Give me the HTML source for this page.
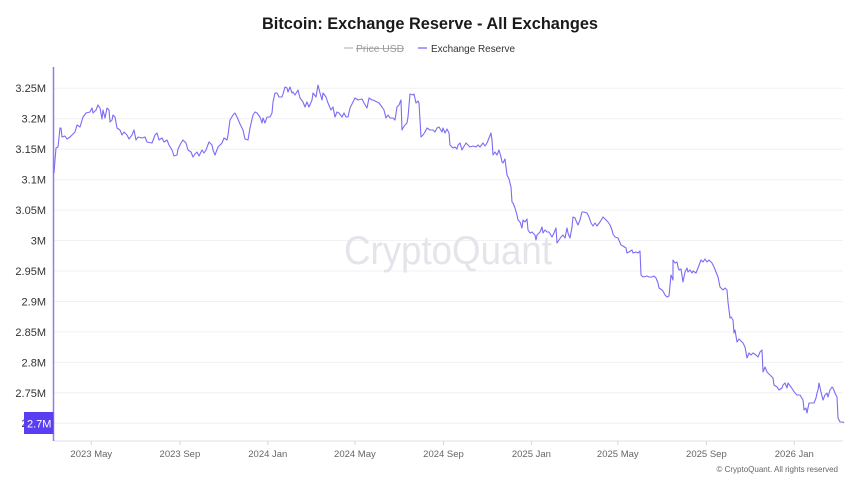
<!DOCTYPE html>
<html><head><meta charset="utf-8"><style>
html,body{margin:0;padding:0;background:#fff;}
svg{display:block;font-family:"Liberation Sans",sans-serif;}
</style></head><body>
<svg width="860" height="484" viewBox="0 0 860 484" xmlns="http://www.w3.org/2000/svg">
<rect width="860" height="484" fill="#fff"/>
<text x="430" y="29" text-anchor="middle" font-size="17" font-weight="bold" fill="#1a1a1a" textLength="336" lengthAdjust="spacingAndGlyphs">Bitcoin: Exchange Reserve - All Exchanges</text>
<line x1="344" y1="48" x2="353" y2="48" stroke="#aaa" stroke-width="1"/>
<text x="356" y="52" font-size="10.5" fill="#999" textLength="48" lengthAdjust="spacingAndGlyphs">Price USD</text>
<line x1="356" y1="48.5" x2="404" y2="48.5" stroke="#999" stroke-width="0.8"/>
<line x1="418" y1="48" x2="427" y2="48" stroke="#6f5ff2" stroke-width="1.2"/>
<text x="431" y="52" font-size="10.5" fill="#333" textLength="84" lengthAdjust="spacingAndGlyphs">Exchange Reserve</text>
<g stroke="#f1f1f3" stroke-width="1">
<line x1="54" y1="88.3" x2="843" y2="88.3"/><line x1="54" y1="118.8" x2="843" y2="118.8"/><line x1="54" y1="149.2" x2="843" y2="149.2"/><line x1="54" y1="179.7" x2="843" y2="179.7"/><line x1="54" y1="210.1" x2="843" y2="210.1"/><line x1="54" y1="240.6" x2="843" y2="240.6"/><line x1="54" y1="271" x2="843" y2="271"/><line x1="54" y1="301.5" x2="843" y2="301.5"/><line x1="54" y1="331.9" x2="843" y2="331.9"/><line x1="54" y1="362.4" x2="843" y2="362.4"/><line x1="54" y1="392.8" x2="843" y2="392.8"/><line x1="54" y1="423.3" x2="843" y2="423.3"/>
</g>
<text x="448" y="264" text-anchor="middle" font-size="40" fill="#e4e4ea" textLength="208" lengthAdjust="spacingAndGlyphs">CryptoQuant</text>
<g font-size="11" fill="#333" text-anchor="end">
<text x="46" y="92">3.25M</text><text x="46" y="122.5">3.2M</text><text x="46" y="153">3.15M</text><text x="46" y="183.5">3.1M</text><text x="46" y="214">3.05M</text><text x="46" y="244.5">3M</text><text x="46" y="275">2.95M</text><text x="46" y="305.5">2.9M</text><text x="46" y="336">2.85M</text><text x="46" y="366.5">2.8M</text><text x="46" y="397">2.75M</text><text x="46" y="427">2.7M</text>
</g>
<line x1="54" y1="441" x2="843" y2="441" stroke="#e2e2e6" stroke-width="1"/>
<g stroke="#d8d8dc" stroke-width="1">
<line x1="91.3" y1="441" x2="91.3" y2="445"/><line x1="179.9" y1="441" x2="179.9" y2="445"/><line x1="267.8" y1="441" x2="267.8" y2="445"/><line x1="354.9" y1="441" x2="354.9" y2="445"/><line x1="443.5" y1="441" x2="443.5" y2="445"/><line x1="531.4" y1="441" x2="531.4" y2="445"/><line x1="617.8" y1="441" x2="617.8" y2="445"/><line x1="706.4" y1="441" x2="706.4" y2="445"/><line x1="794.3" y1="441" x2="794.3" y2="445"/>
</g>
<g font-size="9.5" fill="#666" text-anchor="middle">
<text x="91.3" y="457">2023 May</text><text x="179.9" y="457">2023 Sep</text><text x="267.8" y="457">2024 Jan</text><text x="354.9" y="457">2024 May</text><text x="443.5" y="457">2024 Sep</text><text x="531.4" y="457">2025 Jan</text><text x="617.8" y="457">2025 May</text><text x="706.4" y="457">2025 Sep</text><text x="794.3" y="457">2026 Jan</text>
</g>
<text x="838" y="472" font-size="8" fill="#666" text-anchor="end">© CryptoQuant. All rights reserved</text>
<line x1="53.5" y1="67" x2="53.5" y2="441" stroke="#8b7cf6" stroke-width="1.5"/>
<rect x="24" y="412" width="29.5" height="22" fill="#5a3ef2"/>
<text x="27" y="427.5" font-size="11" fill="#fff">2.7M</text>
<polyline fill="none" stroke="#7b6cf5" stroke-width="1.1" stroke-linejoin="round" points="54,173 55,160 56,148 58,147 60,128 61,128 62,137 65,136 67,139 70,137 75,132 77,125 80,127 83,117 86,113 90,112 92,108 93,113 96,110 98,105 100,108 102,119 103,110 105,118 107,108 109,110 110,122 112,120 113,115 115,117 117,128 120,130 122,135 124,132 127,135 129,139 132,135 134,130 136,140 138,137 142,138 145,137 147,142 152,143 155,135 157,133 159,140 162,138 164,142 167,140 169,145 172,150 174,156 177,155 178,149 181,143 183,140 186,143 188,150 191,152 193,157 195,154 197,152 199,156 202,150 204,153 206,150 209,142 212,145 213,150 215,155 218,147 222,143 224,138 227,140 228,135 230,120 233,115 235,113 237,117 240,124 243,130 245,139 248,140 250,128 253,115 255,112 257,113 260,117 262,123 263,118 265,123 267,117 270,117 272,113 273,102 275,93 277,93 279,97 282,97 283,94 285,87 287,88 288,92 290,87 292,93 293,92 295,95 298,90 300,98 303,102 305,107 307,102 309,107 312,100 313,93 316,97 318,85 320,93 322,100 323,93 326,97 328,103 331,110 333,107 335,117 337,112 339,113 342,117 344,113 346,117 348,117 350,108 353,102 355,98 358,100 362,99 364,103 367,108 369,98 372,100 373,100 377,102 379,103 382,107 384,110 386,118 388,115 390,118 393,118 395,120 397,107 399,105 401,100 402,130 403,128 405,125 407,123 408,117 410,94 413,95 414,94 416,103 418,101 419,103 421,137 423,135 425,132 427,128 430,130 433,130 435,132 437,128 439,127 442,132 443,128 445,133 447,129 449,133 450,145 453,148 455,147 457,149 458,145 460,143 462,150 463,148 466,143 468,145 470,147 473,146 476,147 478,145 480,147 483,143 485,146 487,143 489,138 491,133 492,140 493,155 495,152 497,155 499,150 501,157 502,162 503,163 505,159 507,175 509,179 511,187 512,202 513,203 515,208 517,215 518,220 520,222 522,228 523,220 525,222 527,219 528,230 530,233 532,232 533,233 535,235 536,240 537,235 540,232 542,227 543,233 545,230 547,232 549,232 552,237 554,233 556,228 557,243 559,240 561,237 563,235 565,238 567,228 568,233 570,238 572,227 573,217 575,218 577,223 578,225 580,220 582,212 584,212 587,213 589,217 591,223 593,226 595,223 597,226 600,222 603,217 606,220 608,222 610,225 612,230 613,234 615,237 618,238 621,245 623,246 626,248 627,253 629,252 632,250 633,253 636,252 638,253 640,251 641,275 643,277 647,276 649,277 652,277 654,276 656,278 658,283 659,288 662,290 663,291 665,295 667,297 669,296 671,275 673,280 673,260 675,263 677,262 678,267 679,270 681,269 683,282 685,272 687,268 688,272 690,270 692,273 693,271 696,273 698,268 701,260 703,262 705,259 707,262 709,260 712,263 714,267 716,272 718,277 720,287 723,290 725,288 727,290 728,302 730,318 731,317 733,320 734,333 735,330 737,342 739,339 742,342 743,343 745,347 747,358 749,353 751,355 753,353 756,355 758,357 760,352 762,350 763,372 765,367 767,372 770,375 773,378 774,385 777,387 779,390 782,388 783,385 785,383 787,388 788,383 791,387 793,390 795,393 797,395 800,395 803,400 804,410 806,408 807,413 809,403 812,403 814,403 816,398 817,393 818,390 819,383 821,392 823,400 825,395 827,393 828,397 830,390 832,387 833,388 835,393 837,397 838,418 840,422 843,422 844,423"/>
</svg>
</body></html>
